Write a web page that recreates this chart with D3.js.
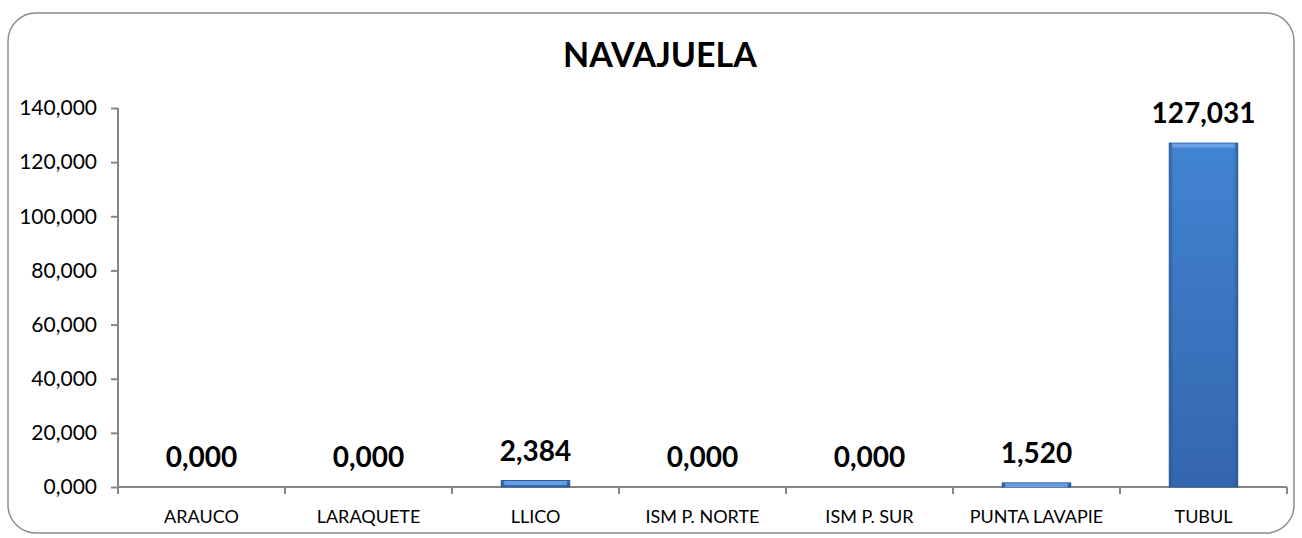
<!DOCTYPE html>
<html>
<head>
<meta charset="utf-8">
<script src="https://cdn.jsdelivr.net/npm/d3@7"></script>
<style>
  body { margin: 0; background: #fff; }
  svg { display: block; font-family: Lato, "Open Sans", sans-serif; }
</style>
</head>
<body>
<script>
// Data
var categories = ["ARAUCO", "LARAQUETE", "LLICO", "ISM P. NORTE", "ISM P. SUR", "PUNTA LAVAPIE", "TUBUL"];
var values = [0, 0, 2.384, 0, 0, 1.520, 127.031];
var yTicks = [0, 20, 40, 60, 80, 100, 120, 140];
var title = "NAVAJUELA";

var W = 1302, H = 538;
var margin = {top: 108, right: 15, bottom: 51, left: 118};
var width = W - margin.left - margin.right,
    height = H - margin.top - margin.bottom;

var fmt = function(v) { return d3.format(".3f")(v).replace(".", ","); };

var svg = d3.select("body").append("svg")
    .attr("width", W).attr("height", H);

// gradients for bevelled bars
var defs = svg.append("defs");
var g1 = defs.append("linearGradient").attr("id", "barFill")
    .attr("x1", 0).attr("x2", 0).attr("y1", 0).attr("y2", 1);
g1.append("stop").attr("offset", "0%").attr("stop-color", "#4284d2");
g1.append("stop").attr("offset", "100%").attr("stop-color", "#3466ae");
var g2 = defs.append("linearGradient").attr("id", "barSide")
    .attr("x1", 0).attr("x2", 1).attr("y1", 0).attr("y2", 0);
g2.append("stop").attr("offset", "0%").attr("stop-color", "#24528f").attr("stop-opacity", 0.6);
g2.append("stop").attr("offset", "7%").attr("stop-color", "#24528f").attr("stop-opacity", 0);
g2.append("stop").attr("offset", "93%").attr("stop-color", "#24528f").attr("stop-opacity", 0);
g2.append("stop").attr("offset", "100%").attr("stop-color", "#24528f").attr("stop-opacity", 0.6);

// chart border
svg.append("rect")
    .attr("x", 8).attr("y", 13).attr("width", 1286).attr("height", 520)
    .attr("rx", 28).attr("ry", 28)
    .style("fill", "#fff").style("stroke", "#8c8c8c").style("stroke-width", 1.5);

svg.append("text")
    .attr("x", 660).attr("y", 67)
    .attr("text-anchor", "middle")
    .style("font-size", "34px").style("font-weight", "bold")
    .text(title);

var artboard = svg.append("g")
    .attr("transform", "translate(" + margin.left + "," + margin.top + ")");

var xScale = d3.scaleBand().domain(categories).range([0, width]).paddingInner(0.59).paddingOuter(0.295);
var xEdges = d3.scaleBand().domain(categories).range([0, width]).padding(0);
var yScale = d3.scaleLinear().domain([0, 140]).range([height, 0]);

// y axis
var yAxis = d3.axisLeft(yScale).tickValues(yTicks).tickFormat(fmt).tickSize(7).tickPadding(14);
var yAxisEl = artboard.append("g").call(yAxis);
yAxisEl.select(".domain").attr("d", "M0," + yScale(140) + "V" + yScale(0));

// x axis
var xAxisEl = artboard.append("g").attr("transform", "translate(0," + height + ")");
xAxisEl.append("line").attr("x1", 0).attr("x2", width).attr("y1", 0).attr("y2", 0);
xAxisEl.selectAll(".tk").data(categories.concat(["end"])).enter().append("line")
    .attr("class", "tk")
    .attr("x1", function(d, i) { return i * xEdges.step(); })
    .attr("x2", function(d, i) { return i * xEdges.step(); })
    .attr("y1", 0).attr("y2", 7);
xAxisEl.selectAll("text").data(categories).enter().append("text")
    .attr("x", function(d) { return xEdges(d) + xEdges.bandwidth() / 2; })
    .attr("y", 36)
    .attr("text-anchor", "middle")
    .style("font-size", "18px").style("fill", "#000")
    .text(function(d) { return d; });

[yAxisEl, xAxisEl].forEach(function(a) {
  a.selectAll("line, path").style("stroke", "#868686").style("stroke-width", 2).style("fill", "none");
});
yAxisEl.selectAll("text").style("font-size", "21px").style("fill", "#000").style("font-family", "Lato, sans-serif");

// bars
var bars = artboard.selectAll(".bar").data(values).enter().append("g").attr("class", "bar");
bars.append("rect")
    .attr("x", function(d, i) { return xScale(categories[i]); })
    .attr("y", function(d) { return yScale(d); })
    .attr("width", xScale.bandwidth())
    .attr("height", function(d) { return height - yScale(d); })
    .style("fill", "url(#barFill)").style("stroke", "#2c5c9e").style("stroke-width", 1);
bars.append("rect")
    .attr("x", function(d, i) { return xScale(categories[i]); })
    .attr("y", function(d) { return yScale(d); })
    .attr("width", xScale.bandwidth())
    .attr("height", function(d) { return height - yScale(d); })
    .style("fill", "url(#barSide)");
bars.append("rect")
    .attr("x", function(d, i) { return xScale(categories[i]) + 3; })
    .attr("y", function(d) { return yScale(d) + 0.5; })
    .attr("width", xScale.bandwidth() - 6)
    .attr("height", function(d) { return Math.min(4, height - yScale(d)); })
    .style("fill", "#6fa3e6").style("opacity", 0.9);

// value labels
artboard.selectAll(".val").data(values).enter().append("text")
    .attr("class", "val")
    .attr("x", function(d, i) { return xScale(categories[i]) + xScale.bandwidth() / 2; })
    .attr("y", function(d) { return yScale(d) - 20; })
    .attr("text-anchor", "middle")
    .style("font-size", "28px").style("font-weight", "bold")
    .text(fmt);
</script>
</body>
</html>
